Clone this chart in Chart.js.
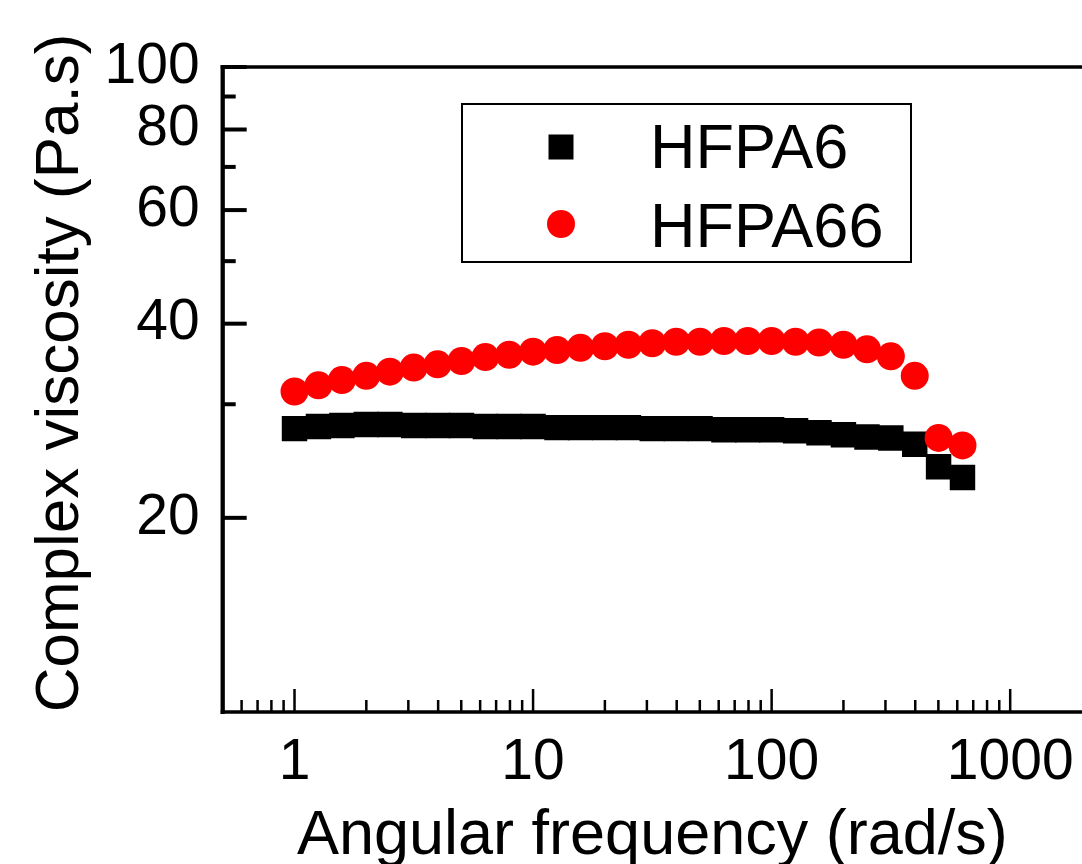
<!DOCTYPE html>
<html>
<head>
<meta charset="utf-8">
<title>Complex viscosity</title>
<script src="https://cdn.jsdelivr.net/npm/chart.js@4/dist/chart.umd.min.js"></script>
<style>
  html, body { margin: 0; padding: 0; background: #fff; overflow: hidden; }
  #chartContainer { position: relative; width: 1100px; height: 864px; }
</style>
</head>
<body>
<div id="chartContainer"><canvas id="myChart"></canvas></div>
<script>
//
// Variables
//

// Angular frequency (rad/s), 10 points per decade
var frequencies = [1, 1.26, 1.58, 2, 2.51, 3.16, 3.98, 5.01, 6.31, 7.94,
  10, 12.6, 15.8, 20, 25.1, 31.6, 39.8, 50.1, 63.1, 79.4,
  100, 126, 158, 200, 251, 316, 398, 501, 631];

// Complex viscosity (Pa.s)
var hfpa6 = [27.5, 27.7, 27.8, 27.9, 27.9, 27.8, 27.8, 27.8, 27.7, 27.7,
  27.7, 27.6, 27.6, 27.6, 27.6, 27.5, 27.5, 27.5, 27.4, 27.4,
  27.4, 27.3, 27.1, 26.9, 26.7, 26.6, 26.0, 24.0, 23.1];
var hfpa66 = [31.4, 32.1, 32.7, 33.2, 33.7, 34.2, 34.6, 35.0, 35.5, 35.8,
  36.2, 36.4, 36.7, 36.9, 37.1, 37.3, 37.5, 37.5, 37.6, 37.6,
  37.6, 37.5, 37.4, 37.1, 36.5, 35.6, 33.2, 26.6, 25.9];

var seriesNames = ['HFPA6', 'HFPA66'];

// Tick values
var xMajorTicks = [1, 10, 100, 1000];
var xMinorTicks = [0.6, 0.7, 0.8, 0.9, 2, 3, 4, 5, 6, 7, 8, 9,
  20, 30, 40, 50, 60, 70, 80, 90, 200, 300, 400, 500, 600, 700, 800, 900];
var yMajorTicks = [20, 40, 60, 80, 100];
var yMinorTicks = [30, 50, 70, 90];

var fontFamily = '"Liberation Sans", Arial, sans-serif';


//
// Methods
//

/**
 * Pair the x values with a series
 */
function toPoints(values) {
    return frequencies.map(function (f, i) {
        return { x: f, y: values[i] };
    });
};

function strokeLine(ctx, x1, y1, x2, y2) {
    ctx.beginPath();
    ctx.moveTo(x1, y1);
    ctx.lineTo(x2, y2);
    ctx.stroke();
};


/**
 * Frame, inward ticks, legend box and y title (Origin style)
 */
var framePlugin = {
    id: 'originFrame',
    afterDraw: function (chart) {
        var ctx = chart.ctx;
        var area = chart.chartArea;
        var xScale = chart.scales.x;
        var yScale = chart.scales.y;

        ctx.save();
        ctx.strokeStyle = '#000';
        ctx.fillStyle = '#000';

        // y ticks point into the plot
        ctx.lineWidth = 4;
        yMajorTicks.forEach(function (v) {
            var y = yScale.getPixelForValue(v);
            strokeLine(ctx, area.left, y, area.left + 24, y);
        });
        yMinorTicks.forEach(function (v) {
            var y = yScale.getPixelForValue(v);
            strokeLine(ctx, area.left, y, area.left + 13, y);
        });

        // x ticks
        ctx.lineWidth = 2.5;
        xMajorTicks.forEach(function (v) {
            var x = xScale.getPixelForValue(v);
            strokeLine(ctx, x, area.bottom, x, area.bottom - 23);
        });
        xMinorTicks.forEach(function (v) {
            var x = xScale.getPixelForValue(v);
            strokeLine(ctx, x, area.bottom, x, area.bottom - 12);
        });

        // axis lines
        ctx.lineWidth = 4.3;
        strokeLine(ctx, area.left, area.top - 2, area.left, area.bottom + 2);
        ctx.lineWidth = 3.7;
        strokeLine(ctx, area.left - 2, area.top, chart.width, area.top);
        ctx.lineWidth = 3.3;
        strokeLine(ctx, area.left - 2, area.bottom, chart.width, area.bottom);

        // legend
        ctx.lineWidth = 2;
        ctx.strokeRect(462, 104, 449, 158);
        var sets = chart.data.datasets;
        ctx.fillStyle = sets[0].backgroundColor;
        ctx.fillRect(561 - 12.5, 147 - 12.5, 25, 25);
        ctx.fillStyle = sets[1].backgroundColor;
        ctx.beginPath();
        ctx.arc(561, 224, 14, 0, Math.PI * 2);
        ctx.fill();
        ctx.fillStyle = '#000';
        ctx.font = '63px ' + fontFamily;
        ctx.textAlign = 'left';
        ctx.textBaseline = 'alphabetic';
        ctx.fillText(sets[0].label, 650, 168);
        ctx.fillText(sets[1].label, 650, 247);

        // y axis title
        ctx.translate(78, 373);
        ctx.rotate(-Math.PI / 2);
        ctx.textAlign = 'center';
        ctx.font = '62px ' + fontFamily;
        ctx.fillText('Complex viscosity (Pa.s)', 0, 0);

        ctx.restore();
    }
};


/**
 * Create and render the chart
 */
function renderChart() {
    var ctx = document.querySelector('#myChart').getContext('2d');
    var chart = new Chart(ctx, {
        type: 'scatter',
        data: {
            datasets: [{
                label: seriesNames[0],
                data: toPoints(hfpa6),
                pointStyle: 'rect',
                pointRadius: 18,
                pointHoverRadius: 18,
                backgroundColor: '#000000',
                borderColor: '#000000',
                borderWidth: 0,
                order: 1
            }, {
                label: seriesNames[1],
                data: toPoints(hfpa66),
                pointStyle: 'circle',
                pointRadius: 14,
                pointHoverRadius: 14,
                backgroundColor: '#ff0000',
                borderColor: '#ff0000',
                borderWidth: 0,
                order: 0
            }]
        },
        options: {
            responsive: true,
            maintainAspectRatio: false,
            animation: false,
            events: [],
            layout: {
                padding: { left: 0, top: 67, right: 13, bottom: 0 }
            },
            plugins: {
                legend: { display: false },
                tooltip: { enabled: false }
            },
            scales: {
                x: {
                    type: 'logarithmic',
                    min: 0.5,
                    max: 2000,
                    grid: { display: false, drawTicks: false },
                    border: { display: false },
                    afterBuildTicks: function (scale) {
                        scale.ticks = xMajorTicks.map(function (v) { return { value: v }; });
                    },
                    afterFit: function (scale) {
                        scale.height = 152;
                    },
                    ticks: {
                        color: '#000',
                        padding: 17,
                        maxRotation: 0,
                        autoSkip: false,
                        font: { family: fontFamily, size: 57 },
                        callback: function (value) { return String(value); }
                    },
                    title: {
                        display: true,
                        text: 'Angular frequency (rad/s)',
                        color: '#000',
                        padding: { top: 0, bottom: -4 },
                        font: { family: fontFamily, size: 63, lineHeight: 1 }
                    }
                },
                y: {
                    type: 'logarithmic',
                    min: 10,
                    max: 100,
                    grid: { display: false, drawTicks: false },
                    border: { display: false },
                    afterBuildTicks: function (scale) {
                        scale.ticks = yMajorTicks.map(function (v) { return { value: v }; });
                    },
                    afterFit: function (scale) {
                        scale.width = 222.7;
                    },
                    ticks: {
                        color: '#000',
                        padding: 23,
                        autoSkip: false,
                        font: { family: fontFamily, size: 57 },
                        callback: function (value) { return String(value); }
                    }
                }
            }
        },
        plugins: [framePlugin]
    });
};


//
// Event listeners
//

window.addEventListener('load', function (event) {
    renderChart();
}, false);
</script>
</body>
</html>
